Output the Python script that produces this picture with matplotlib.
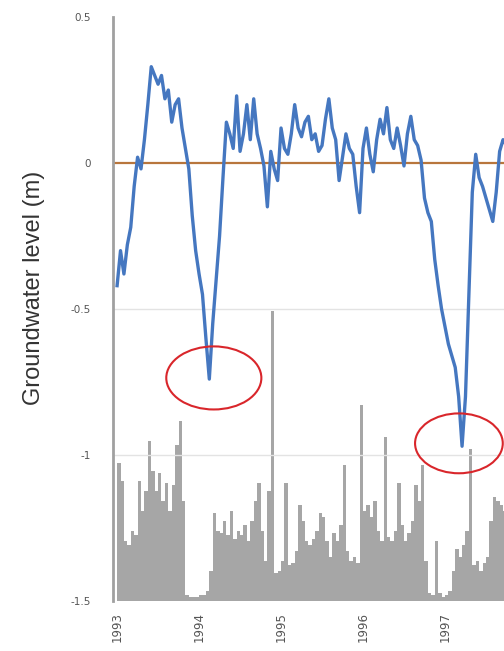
import numpy as np
import matplotlib
matplotlib.use("Agg")
from matplotlib import pyplot as plt
from matplotlib.patches import Ellipse

# semi-monthly series starting Jan 1993
start_year = 1993
steps_per_year = 24

# groundwater level (m)
gw_level = [
    -0.42, -0.30, -0.38, -0.28, -0.22, -0.08, 0.02, -0.02, 0.08, 0.20,
    0.33, 0.30, 0.27, 0.30, 0.22, 0.25, 0.14, 0.20, 0.22, 0.12,
    0.05, -0.02, -0.18, -0.30, -0.38, -0.45, -0.60, -0.74, -0.55, -0.40,
    -0.25, -0.05, 0.14, 0.10, 0.05, 0.23, 0.04, 0.10, 0.20, 0.08,
    0.22, 0.10, 0.05, -0.01, -0.15, 0.04, -0.02, -0.06, 0.12, 0.05,
    0.03, 0.10, 0.20, 0.12, 0.09, 0.14, 0.16, 0.08, 0.10, 0.04,
    0.06, 0.15, 0.22, 0.12, 0.08, -0.06, 0.02, 0.10, 0.05, 0.03,
    -0.08, -0.17, 0.05, 0.12, 0.03, -0.03, 0.08, 0.15, 0.10, 0.19,
    0.08, 0.05, 0.12, 0.06, -0.01, 0.10, 0.16, 0.08, 0.06, 0.01,
    -0.12, -0.17, -0.20, -0.33, -0.42, -0.50, -0.56, -0.62, -0.66, -0.70,
    -0.80, -0.97, -0.80, -0.45, -0.10, 0.03, -0.05, -0.08, -0.12, -0.16,
    -0.20, -0.10, 0.04, 0.08, 0.06,
]

# rainfall (mm)
rainfall = [
    69, 60, 30, 28, 35, 33, 60, 45, 55, 80,
    65, 55, 64, 50, 59, 45, 58, 78, 90, 50,
    3, 2, 2, 2, 3, 3, 5, 15, 44, 35,
    34, 40, 33, 45, 31, 35, 33, 38, 30, 40,
    50, 59, 35, 20, 55, 145, 14, 15, 20, 59,
    18, 19, 25, 48, 40, 30, 28, 31, 35, 44,
    42, 30, 22, 34, 30, 38, 68, 25, 20, 22,
    19, 98, 45, 48, 42, 50, 35, 30, 82, 32,
    30, 35, 59, 38, 30, 34, 40, 58, 50, 68,
    20, 4, 3, 30, 4, 2, 3, 5, 15, 26,
    22, 28, 35, 76, 18, 20, 15, 19, 22, 40,
    52, 50, 48, 45, 42,
]

year_ticks = [1993, 1994, 1995, 1996, 1997]
level_ticks = [0.5, 0, -0.5, -1, -1.5]
level_labels = ["0.5", "0", "-0.5", "-1", "-1.5"]

t_gw = start_year + np.arange(len(gw_level)) / steps_per_year
t_rain = start_year + np.arange(len(rainfall)) / steps_per_year

fig = plt.figure(figsize=(5.04, 6.51), dpi=100)
ax = fig.add_axes([0.2242, 0.0768, 0.7758, 0.897])
ax2 = ax.twinx()

# rainfall bars behind the groundwater line
ax2.bar(t_rain, rainfall, width=1 / steps_per_year, color="#a6a6a6",
        edgecolor="none", align="edge")
ax2.set_ylim(0, 292)
ax2.set_yticks([])
for s in ax2.spines.values():
    s.set_visible(False)

ax.set_zorder(ax2.get_zorder() + 1)
ax.patch.set_visible(False)

for y in [-0.5, -1.0]:
    ax.axhline(y, color="#e3e3e3", lw=1.0, zorder=0)
ax.axhline(0, color="#b8763c", lw=1.6, zorder=1)

ax.plot(t_gw, gw_level, color="#4577c0", lw=2.4, zorder=3)

# circles marking the drought minima
ax.add_patch(Ellipse((1994.18, -0.736), 1.16, 0.216, fill=False,
                     edgecolor="#d9262b", lw=1.5, zorder=4))
ax.add_patch(Ellipse((1997.17, -0.96), 1.07, 0.205, fill=False,
                     edgecolor="#d9262b", lw=1.5, zorder=4))

ax.set_xlim(1992.95, 1997.72)
ax2.set_xlim(1992.95, 1997.72)
ax.set_ylim(-1.5, 0.5)

ax.set_yticks(level_ticks)
ax.set_yticklabels(level_labels, fontsize=7.5, color="#555555")
ax.set_xticks(year_ticks)
ax.set_xticklabels([str(y) for y in year_ticks], rotation=90,
                   fontsize=8.5, color="#555555")
ax.tick_params(axis="y", length=0, pad=16)
ax.tick_params(axis="x", length=0, pad=8)

for side in ["top", "right", "bottom"]:
    ax.spines[side].set_visible(False)
ax.spines["left"].set_color("#a0a0a0")
ax.spines["left"].set_linewidth(2)

ax.set_ylabel("Groundwater level (m)", fontsize=17, color="#333333",
              family=["Liberation Sans", "DejaVu Sans"])
ax.yaxis.set_label_coords(-0.174, 0.536)

fig.savefig("out.png", dpi=100)
